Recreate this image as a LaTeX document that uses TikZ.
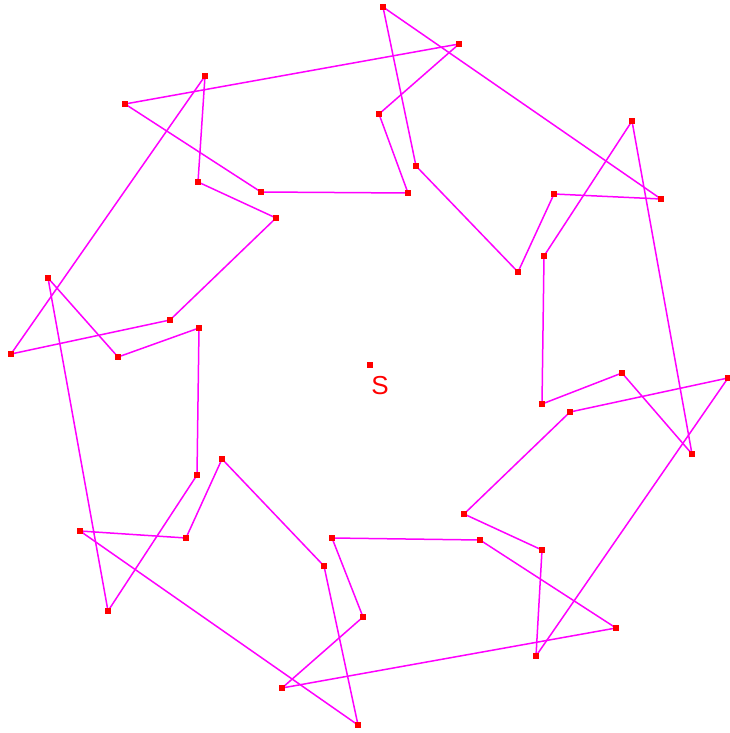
\documentclass[tikz,border=0pt]{standalone}
\usepackage{fontspec}
\setmainfont{Liberation Sans}
\usepackage{xcolor}
\usepackage{tikz}
\definecolor{tourpink}{HTML}{FF00FF}
\definecolor{markred}{HTML}{FF0000}

\tikzset{
  tour/.style={draw=tourpink, line width=1.5pt, line join=round},
  city/.style={rectangle, fill=markred, inner sep=0pt, minimum size=6pt},
}

\begin{document}
\begin{tikzpicture}[x=1pt, y=-1pt]
  \useasboundingbox (0,0) rectangle (730,733);
  % eight small tours, one round the other
  \coordinate (a1) at (383,7);   \coordinate (a2) at (416,166);
  \coordinate (a3) at (518,272); \coordinate (a4) at (554,194);
  \coordinate (a5) at (661,199);
  \coordinate (b1) at (459,44);  \coordinate (b2) at (379,114);
  \coordinate (b3) at (408,193); \coordinate (b4) at (261,192);
  \coordinate (b5) at (125,104);
  \coordinate (c1) at (205,76);  \coordinate (c2) at (198,182);
  \coordinate (c3) at (276,218); \coordinate (c4) at (170,320);
  \coordinate (c5) at (11,354);
  \coordinate (d1) at (48,278);  \coordinate (d2) at (118,357);
  \coordinate (d3) at (199,328); \coordinate (d4) at (197,475);
  \coordinate (d5) at (108,611);
  \coordinate (e1) at (80,531);  \coordinate (e2) at (186,538);
  \coordinate (e3) at (222,459); \coordinate (e4) at (324,566);
  \coordinate (e5) at (358,725);
  \coordinate (f1) at (332,538); \coordinate (f2) at (363,617);
  \coordinate (f3) at (282,688); \coordinate (f4) at (616,628);
  \coordinate (f5) at (480,540);
  \coordinate (g1) at (464,514); \coordinate (g2) at (542,550);
  \coordinate (g3) at (536,656); \coordinate (g4) at (728,378);
  \coordinate (g5) at (570,412);
  \coordinate (h1) at (542,404); \coordinate (h2) at (622,373);
  \coordinate (h3) at (692,454); \coordinate (h4) at (632,121);
  \coordinate (h5) at (544,256);

  \foreach \t in {a,b,c,d,e,f,g,h}
    \draw[tour] (\t1) -- (\t2) -- (\t3) -- (\t4) -- (\t5) -- cycle;
  \foreach \t in {a,b,c,d,e,f,g,h}
    \foreach \i in {1,...,5}
      \node[city] at (\t\i) {};

  % the start
  \node[city] (start) at (370,365) {};
  \node[text=markred, font=\fontsize{26}{30}\selectfont, inner sep=0pt]
    (startlabel) at (380,386) {S};
\end{tikzpicture}
\end{document}
